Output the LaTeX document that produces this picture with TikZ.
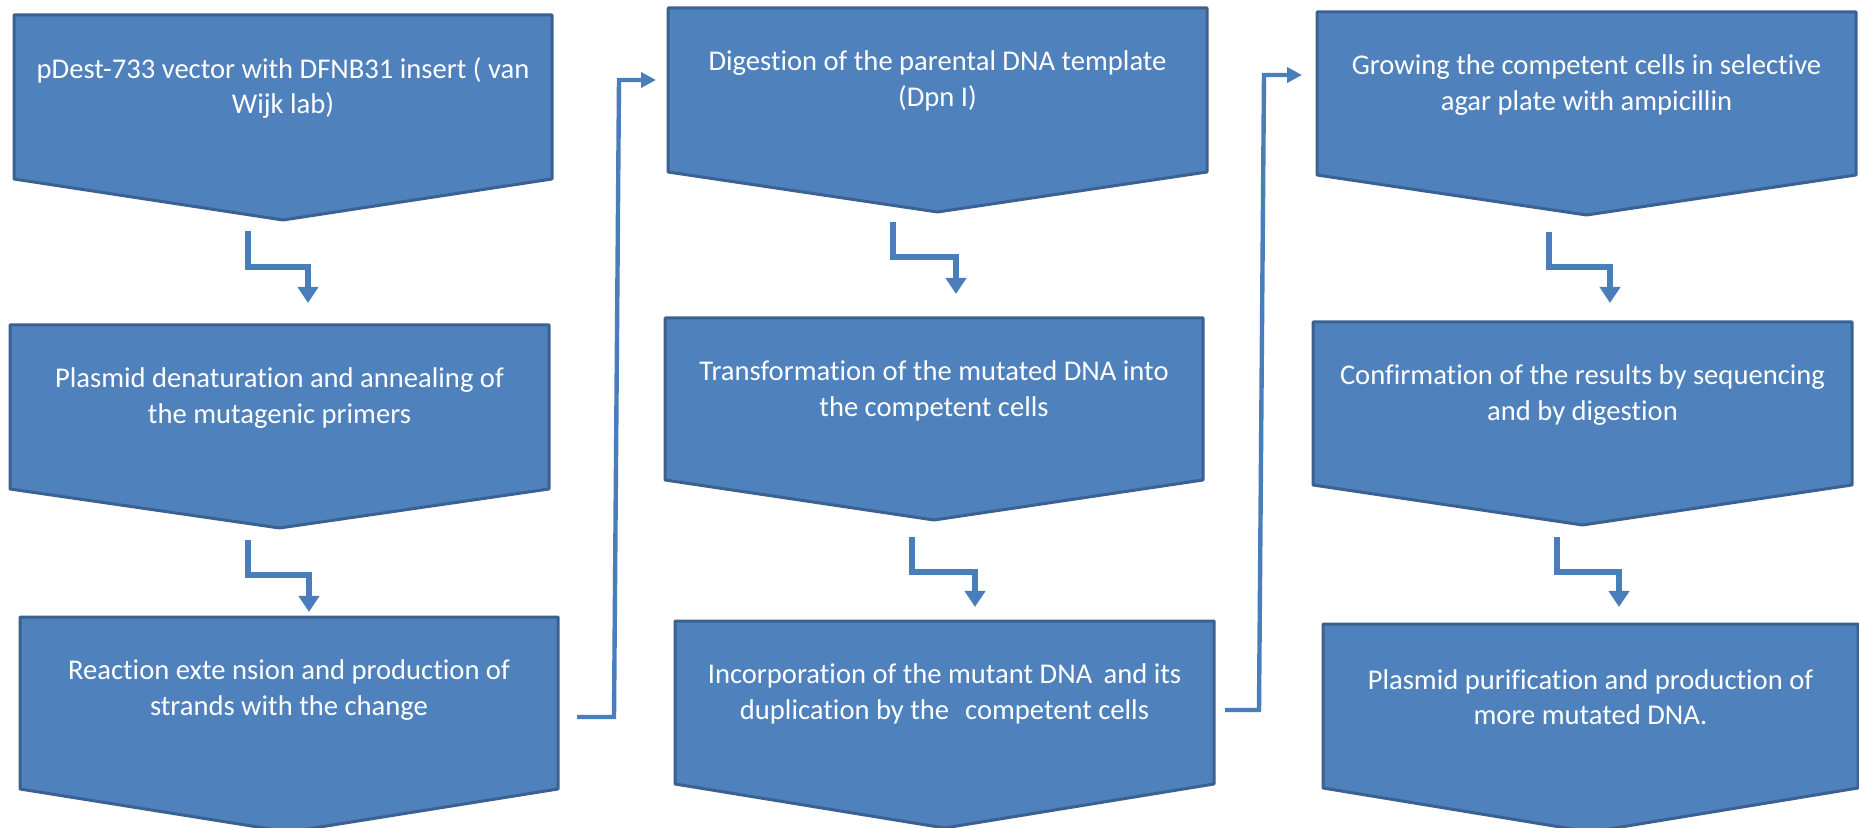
\documentclass[tikz,border=0pt]{standalone}
\usepackage{fontspec}
\setmainfont{Carlito}[Ligatures=NoCommon]
\usetikzlibrary{arrows.meta}
\definecolor{boxfill}{HTML}{4F81BD}
\definecolor{boxline}{HTML}{3A6190}
\definecolor{conn}{HTML}{4A7EBB}
\tikzset{
  chev/.style={fill=boxfill, draw=boxline, line width=1.5pt, line join=round},
  lbl/.style={text=white, align=center, font=\fontsize{14.3}{17.8}\selectfont, inner sep=0pt},
  bent/.style={draw=conn, line width=3.2pt, -{Triangle[width=10pt,length=8pt]}},
  longc/.style={draw=conn, line width=2.2pt, -{Triangle[width=7.5pt,length=7.5pt]}},
}
\newcommand\chevbox[7]{%
  \draw[chev] (#2,#4) -- (#3,#4) -- (#3,#5) -- ({(#2+#3)/2},#6) -- (#2,#5) -- cycle;
  \node[lbl] (#1) at ({(#2+#3)/2},#4+73) {#7};
}
\begin{document}
\begin{tikzpicture}[x=0.5pt,y=-0.5pt]
\useasboundingbox (0,0) rectangle (1859,828);
\fill[white] (0,0) rectangle (1859,828);
\clip (0,0) rectangle (1859,828);

\chevbox{b1}{14}{552}{15}{179}{220}{pDest-733 vector with DFNB31 insert ( van\\Wijk lab)}
\chevbox{b2}{10}{549}{325}{489}{528}{Plasmid denaturation and annealing of\\the mutagenic primers}
\chevbox{b3}{20}{558}{617}{789}{832}{Reaction exte nsion and production of\\strands with the change}
\chevbox{b4}{668}{1207}{8}{172}{212}{Digestion of the parental DNA template\\(Dpn I)}
\chevbox{b5}{665}{1203}{318}{480}{520}{Transformation of the mutated DNA into\\the competent cells}
\chevbox{b6}{675}{1214}{621}{784}{828}{Incorporation of the mutant DNA\, and its\\duplication by the\,\, competent cells}
\chevbox{b7}{1317}{1856}{12}{175}{215}{Growing the competent cells in selective\\agar plate with ampicillin}
\chevbox{b8}{1313}{1852}{322}{485}{525}{Confirmation of the results by sequencing\\and by digestion}
\chevbox{b9}{1323}{1858}{624}{788}{832}{Plasmid purification and production of\\more mutated DNA.}

% bent arrows
\coordinate (a12s) at (248,231); \coordinate (a12e) at (308,303);
\coordinate (a23s) at (248,540); \coordinate (a23e) at (309,612);
\coordinate (a45s) at (893,222); \coordinate (a45e) at (956,294);
\coordinate (a56s) at (912,537); \coordinate (a56e) at (975,607);
\coordinate (a78s) at (1549,232); \coordinate (a78e) at (1610,303);
\coordinate (a89s) at (1557,537); \coordinate (a89e) at (1619,607);
\draw[bent] (a12s) -- ++(0,36) -| (a12e);
\draw[bent] (a23s) -- ++(0,35) -| (a23e);
\draw[bent] (a45s) -- ++(0,35) -| (a45e);
\draw[bent] (a56s) -- ++(0,35) -| (a56e);
\draw[bent] (a78s) -- ++(0,35) -| (a78e);
\draw[bent] (a89s) -- ++(0,35) -| (a89e);

% long connectors
\coordinate (c34s) at (577,717); \coordinate (c34a) at (614,717);
\coordinate (c34b) at (619,80); \coordinate (c34e) at (656,80);
\draw[longc] (c34s) -- (c34a) -- (c34b) -- (c34e);
\coordinate (c67s) at (1225,710); \coordinate (c67a) at (1259,710);
\coordinate (c67b) at (1264,75); \coordinate (c67e) at (1302,75);
\draw[longc] (c67s) -- (c67a) -- (c67b) -- (c67e);
\end{tikzpicture}
\end{document}
